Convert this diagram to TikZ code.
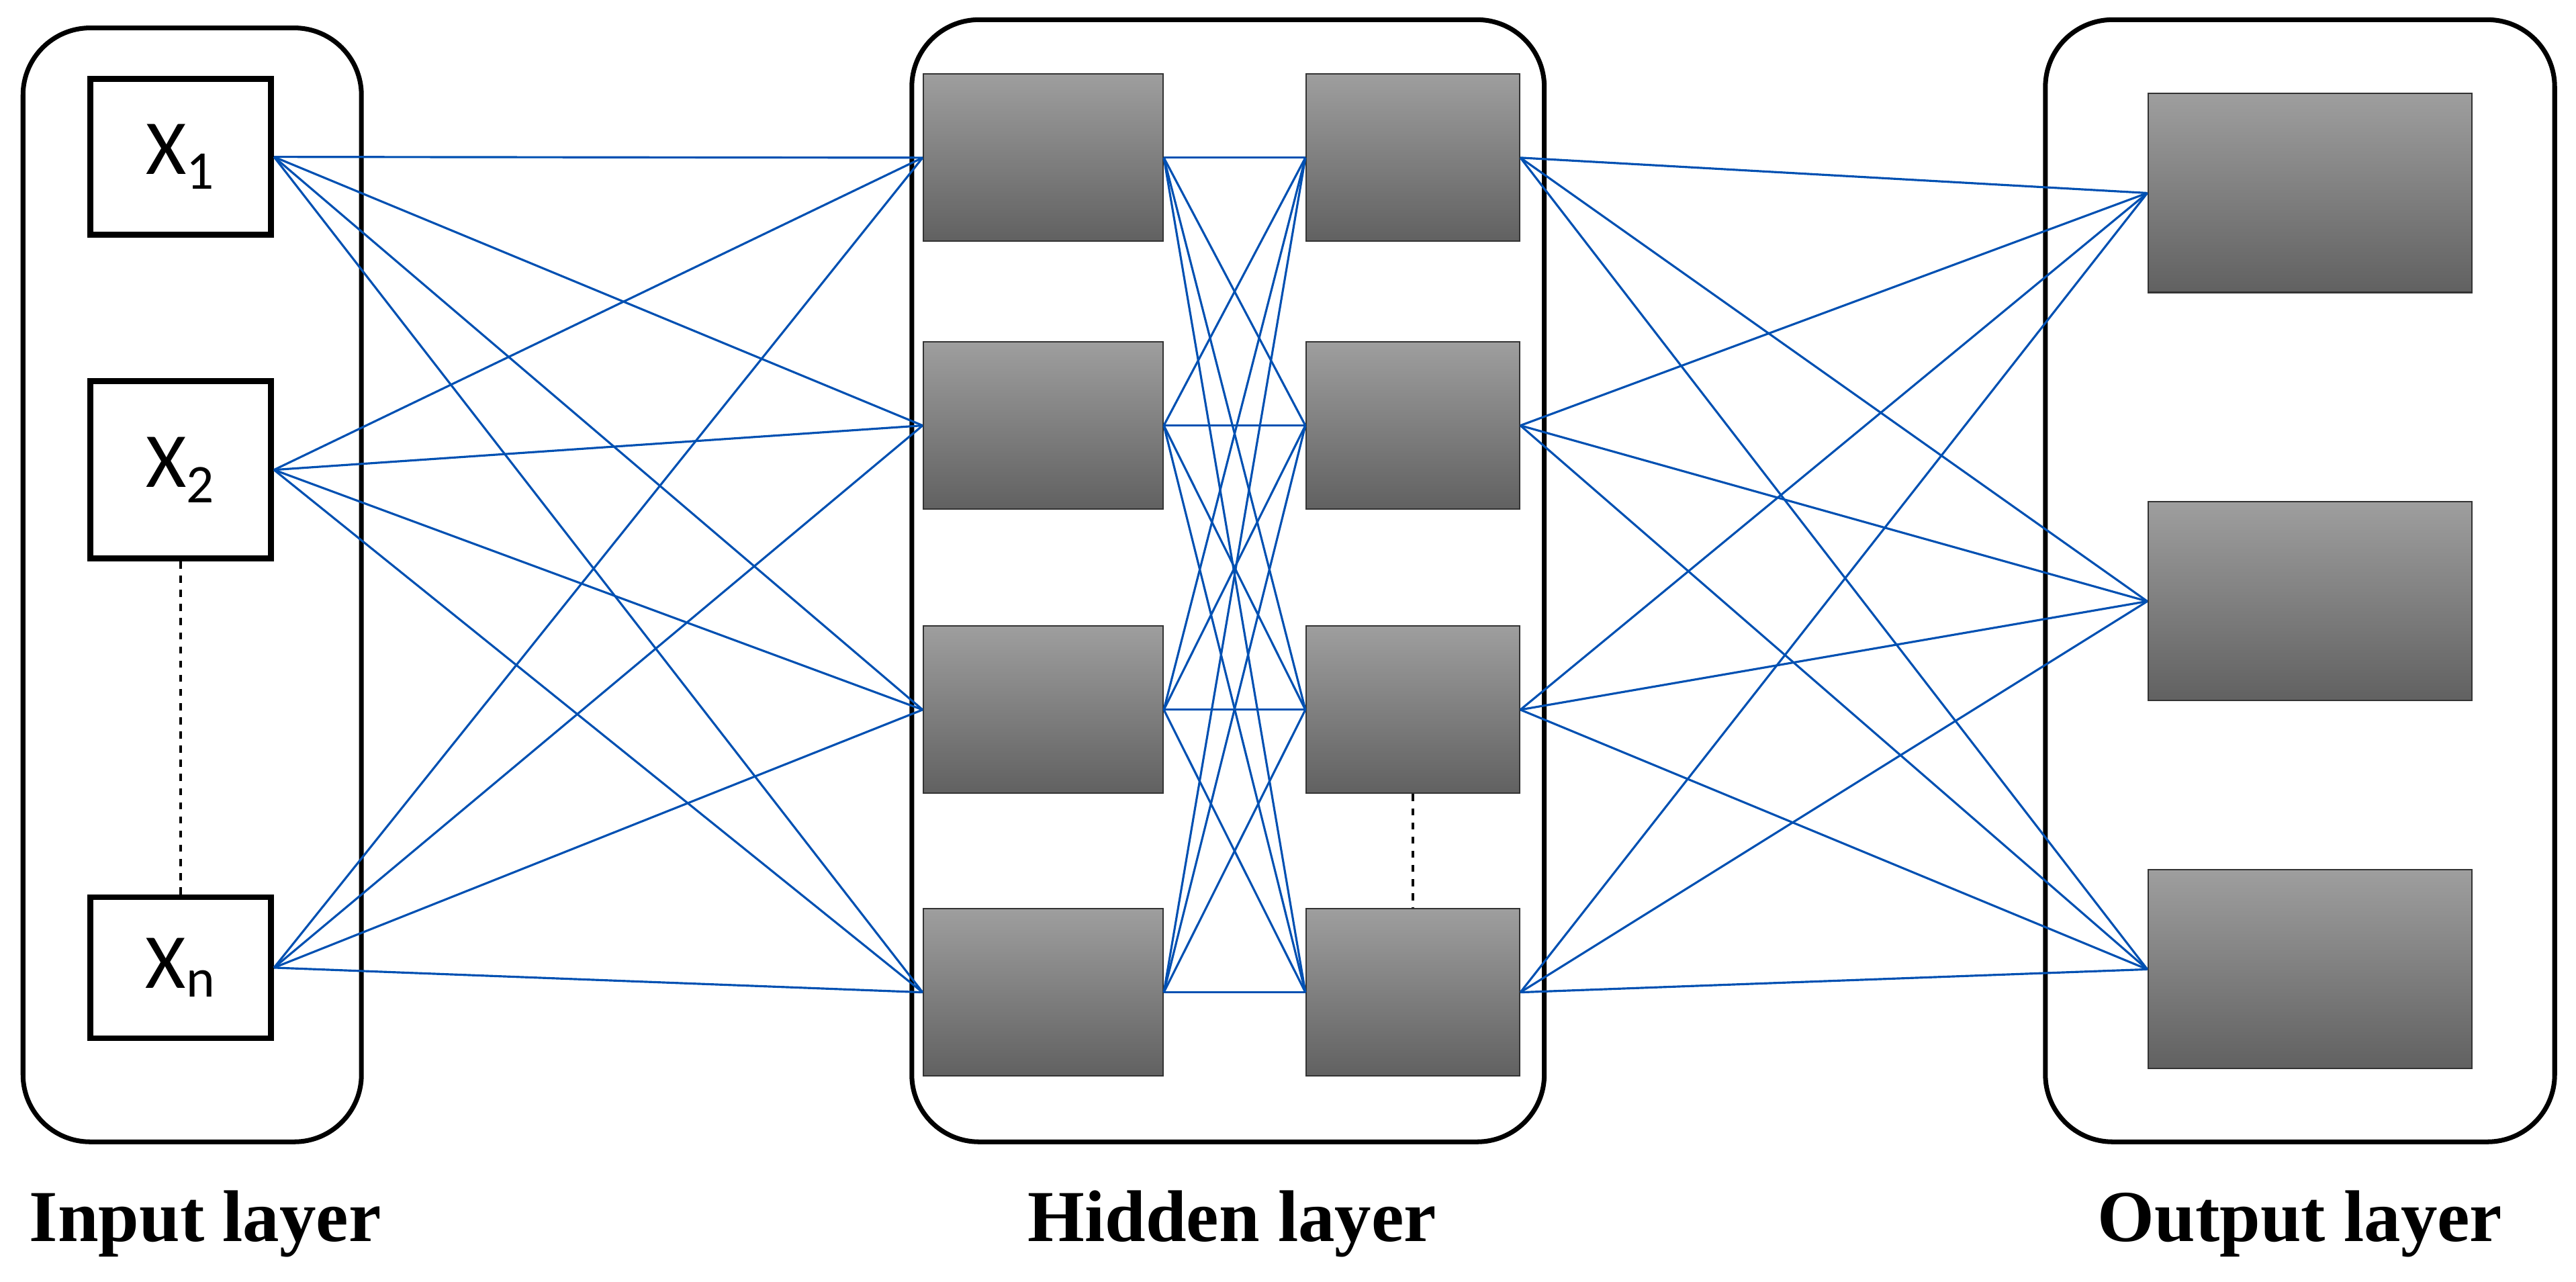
\documentclass[tikz,border=0pt]{standalone}
\usepackage{fontspec}
\setmainfont{Liberation Serif}
\newfontfamily\xfont{Carlito}
\begin{document}
\begin{tikzpicture}[x=0.02446cm, y=-0.02446cm,
    layer/.style={draw, line width=2pt, rounded corners=1cm},
    inp/.style={draw, line width=2.5pt, minimum width=2.69cm, inner sep=0pt, font=\xfont\fontsize{33}{36}\selectfont},
    unit/.style={draw=black!80, line width=0.6pt, top color=black!38, bottom color=black!62, minimum height=2.49cm, inner sep=0pt},
    outu/.style={unit, minimum width=4.82cm, minimum height=2.96cm},
    link/.style={draw=blue!55!cyan!70!black, line width=0.9pt},
    lbl/.style={font=\bfseries\fontsize{31}{34}\selectfont}]
    \useasboundingbox (0,0) rectangle (1568,780);
    % layer frames
    \draw[layer] (14,17) rectangle (220,695);
    \draw[layer] (555,12) rectangle (940,695);
    \draw[layer] (1245,12) rectangle (1555,695);
    % input nodes
    \node[inp, minimum height=2.32cm] (x1) at (110,95.5) {X\textsubscript{1}};
    \node[inp, minimum height=2.64cm] (x2) at (110,286) {X\textsubscript{2}};
    \node[inp, minimum height=2.10cm] (xn) at (110,589) {X\textsubscript{n}};
    \draw[dashed, line width=1pt] (x2) -- (xn);
    % hidden nodes
    \foreach \i/\y in {1/96,2/259,3/432,4/604} {
        \node[unit, minimum width=3.57cm] (a\i) at (635,\y) {};
        \node[unit, minimum width=3.18cm] (b\i) at (860,\y) {};
    }
    \draw[dashed, line width=1pt] (b3) -- (b4);
    % output nodes
    \node[outu] (o1) at (1406,117.5) {};
    \node[outu] (o2) at (1406,366) {};
    \node[outu] (o3) at (1406,590) {};
    % connections
    \foreach \s in {x1,x2,xn} \foreach \t in {1,...,4} \draw[link] (\s.east) -- (a\t.west);
    \foreach \s in {1,...,4} \foreach \t in {1,...,4} \draw[link] (a\s.east) -- (b\t.west);
    \foreach \s in {1,...,4} \foreach \t in {1,2,3} \draw[link] (b\s.east) -- (o\t.west);
    % labels
    \node[lbl] (lin) at (125,745) {Input layer};
    \node[lbl] (lhid) at (750,745) {Hidden layer};
    \node[lbl] (lout) at (1400,745) {Output layer};
\end{tikzpicture}
\end{document}
